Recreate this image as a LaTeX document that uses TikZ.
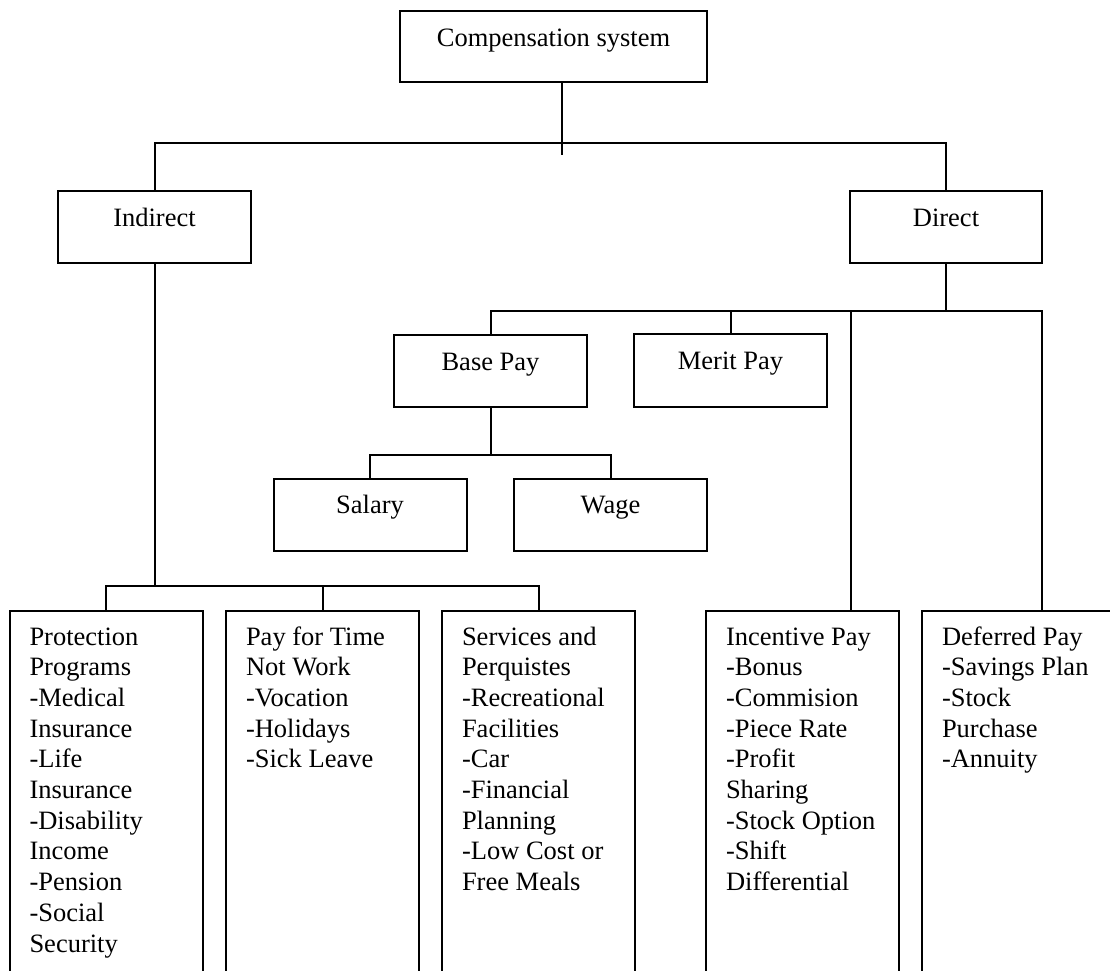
\documentclass[tikz,border=0pt]{standalone}
\usepackage{fontspec}
\setmainfont{Liberation Serif}
\begin{document}
\begin{tikzpicture}[x=1pt, y=-1pt,
  line width=2pt,
  box/.style={draw=black, rectangle, inner sep=0pt, minimum width=193pt, minimum height=72pt},
  tallbox/.style={box, minimum height=400pt},
  lbl/.style={anchor=base, inner sep=0pt, font=\fontsize{26.5}{30.7}\selectfont},
  listlbl/.style={anchor=base west, inner sep=0pt, font=\fontsize{26.5}{30.7}\selectfont}
]
\useasboundingbox (0,0) rectangle (1110,970);
\clip (0,0) rectangle (1110,970);
\fill[white] (0,0) rectangle (1110,970);

% --- boxes ---
\node[box, minimum width=307pt, minimum height=71pt] (top) at (553.5,46.5) {};
\node[box] (indirect) at (154.5,227) {};
\node[box, minimum width=192pt] (direct) at (946,227) {};
\node[box] (basepay) at (490.5,371) {};
\node[box, minimum height=73pt] (merit) at (730.5,370.5) {};
\node[box] (salary) at (370,514.5) {};
\node[box] (wage) at (610.5,514.5) {};

\node[tallbox] (prot)   at (106,811) {};
\node[tallbox] (timeoff) at (322.5,811) {};
\node[tallbox] (serv)   at (538.5,811) {};
\node[tallbox] (incent) at (802.5,811) {};
\node[tallbox] (defer)  at (1018.5,811) {};

% --- labels ---
\node[lbl] (tTop) at ([yshift=-36pt]top.north) {Compensation system};
\node[lbl] (tInd) at ([yshift=-36pt]indirect.north) {Indirect};
\node[lbl] (tDir) at ([yshift=-36pt]direct.north) {Direct};
\node[lbl] (tBase) at ([yshift=-36pt]basepay.north) {Base Pay};
\node[lbl] (tMerit) at ([yshift=-36pt]merit.north) {Merit Pay};
\node[lbl] (tSal) at ([yshift=-36pt]salary.north) {Salary};
\node[lbl] (tWage) at ([yshift=-36pt]wage.north) {Wage};

\node[listlbl] (lProt) at ([xshift=20pt,yshift=-35pt]prot.north west)
  {\parbox[t]{180pt}{\fontsize{26.5}{30.7}\selectfont\raggedright Protection\\Programs\\-Medical\\Insurance\\-Life\\Insurance\\-Disability\\Income\\-Pension\\-Social\\Security}};
\node[listlbl] (lTime) at ([xshift=20pt,yshift=-35pt]timeoff.north west)
  {\parbox[t]{180pt}{\fontsize{26.5}{30.7}\selectfont\raggedright Pay for Time\\Not Work\\-Vocation\\-Holidays\\-Sick Leave}};
\node[listlbl] (lServ) at ([xshift=20pt,yshift=-35pt]serv.north west)
  {\parbox[t]{180pt}{\fontsize{26.5}{30.7}\selectfont\raggedright Services and\\Perquistes\\-Recreational\\Facilities\\-Car\\-Financial\\Planning\\-Low Cost or\\Free Meals}};
\node[listlbl] (lInc) at ([xshift=20pt,yshift=-35pt]incent.north west)
  {\parbox[t]{180pt}{\fontsize{26.5}{30.7}\selectfont\raggedright Incentive Pay\\-Bonus\\-Commision\\-Piece Rate\\-Profit\\Sharing\\-Stock Option\\-Shift\\Differential}};
\node[listlbl] (lDef) at ([xshift=20pt,yshift=-35pt]defer.north west)
  {\parbox[t]{180pt}{\fontsize{26.5}{30.7}\selectfont\raggedright Deferred Pay\\-Savings Plan\\-Stock\\Purchase\\-Annuity}};

% --- junction points ---
\coordinate (hub) at (562,143);
\coordinate (hubend) at (562,155);
\coordinate (dbus) at (946,311);
\coordinate (bpbus) at (490.5,455);
\coordinate (ibus) at (154.5,586);
\coordinate (incTop) at (851,611);
\coordinate (defTop) at (1042,611);

% --- connectors ---
\draw (top.south -| hub) -- (hubend);
\draw (indirect.north) |- (hub) -| (direct.north);

\draw (direct.south) -- (dbus);
\draw (basepay.north) |- (dbus) -| (defTop);
\draw (merit.north) -- (merit.north |- dbus);
\draw (incTop) -- (incTop |- dbus);

\draw (basepay.south) -- (bpbus);
\draw (salary.north) |- (bpbus) -| (wage.north);

\draw (indirect.south) -- (ibus);
\draw (prot.north) |- (ibus) -| (serv.north);
\draw (timeoff.north) -- (timeoff.north |- ibus);
\end{tikzpicture}
\end{document}
